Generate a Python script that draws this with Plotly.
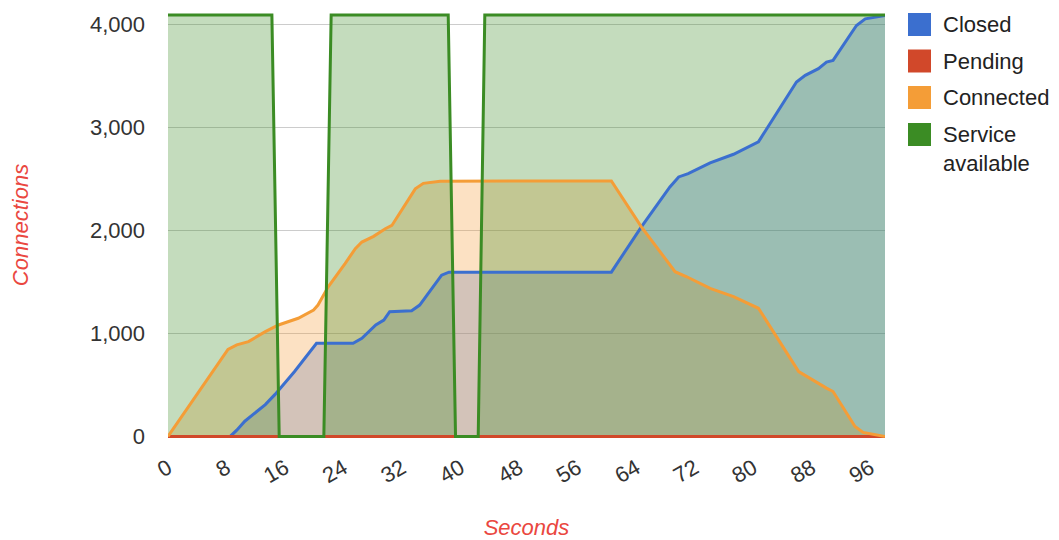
import plotly.graph_objects as go

# ---- data ----
closed_t = [0, 8.5, 9.4, 10.5, 13.3, 14.6, 17.3, 20.3, 25.3, 26.5, 28.4, 29.5, 30.3, 33.3, 34.4,
            37.4, 38.4, 60.6, 64.7, 68.6, 69.8, 71.1, 74.1, 77.3, 80.7, 85.9, 87.1, 88.9, 90.0,
            90.9, 94.1, 95.3, 98.0]
closed_v = [0, 0, 61, 148, 309, 406, 631, 905, 905, 953, 1082, 1130, 1211, 1221, 1275,
            1565, 1595, 1595, 2035, 2422, 2519, 2552, 2655, 2739, 2859, 3440, 3505, 3570, 3634,
            3650, 3989, 4054, 4086]

pending_t = [0, 98.0]
pending_v = [0, 0]

connected_t = [0, 8.2, 9.4, 11.0, 13.3, 15.1, 17.8, 19.9, 20.5, 21.9, 24.2, 25.6, 26.5, 28.1,
               29.7, 30.6, 33.8, 34.9, 37.2, 60.6, 64.7, 69.3, 70.9, 74.1, 77.3, 80.7, 86.2,
               87.3, 90.0, 90.9, 93.9, 95.0, 98.0]
connected_v = [0, 845, 889, 921, 1017, 1082, 1147, 1227, 1275, 1452, 1678, 1823, 1887, 1942,
               2016, 2048, 2403, 2457, 2478, 2480, 2035, 1599, 1550, 1438, 1357, 1244, 630,
               581, 469, 436, 97, 39, 0]

service_t = [0, 14.2, 15.2, 21.3, 22.3, 38.3, 39.3, 42.4, 43.3, 98.0]
service_v = [4090, 4090, 0, 0, 4090, 4090, 0, 0, 4090, 4090]

series_names = ["Closed", "Pending", "Connected", "Service available"]
legend_labels = ["Closed", "Pending", "Connected", "Service<br>available"]
x_ticks = list(range(0, 97, 8))
y_ticks = [0, 1000, 2000, 3000, 4000]

# ---- styling ----
colors = ["#3b6fcf", "#d1482a", "#f49d37", "#3b8c24"]
FONT = "Liberation Sans, Arial, Helvetica, sans-serif"
TITLE_RED = "#ea4740"
W, H = 1059, 540
ML, MR, MT, MB = 168, 174, 12, 102


def rgba(hex_color, a):
    h = hex_color.lstrip("#")
    r, g, b = int(h[0:2], 16), int(h[2:4], 16), int(h[4:6], 16)
    return f"rgba({r},{g},{b},{a})"


data = [(closed_t, closed_v), (pending_t, pending_v), (connected_t, connected_v), (service_t, service_v)]

fig = go.Figure()
# fills first
for (t, v), name, c in zip(data, series_names, colors):
    fig.add_trace(go.Scatter(x=t, y=v, mode="lines", fill="tozeroy", fillcolor=rgba(c, 0.3),
                             line=dict(width=0, color=c), name=name, showlegend=False,
                             hoverinfo="skip"))
# lines on top
for (t, v), name, c in zip(data, series_names, colors):
    fig.add_trace(go.Scatter(x=t, y=v, mode="lines", line=dict(width=3, color=c),
                             name=name, showlegend=False))

# ---- manual legend (Google-style squares) ----
pw = W - ML - MR
ph = H - MT - MB


def px_x(px):
    return (px - ML) / pw


def px_y(py):
    return (H - MB - py) / ph


centers = [24.5, 61, 97.5, 134.5]
shapes = []
annotations = []
for i, (lab, c) in enumerate(zip(legend_labels, colors)):
    cy = centers[i]
    shapes.append(dict(type="rect", xref="paper", yref="paper",
                       x0=px_x(908), x1=px_x(931), y0=px_y(cy + 11.5), y1=px_y(cy - 11.5),
                       fillcolor=c, line=dict(width=0)))
    ty = cy if "<br>" not in lab else cy + 14.3
    annotations.append(dict(text=lab, xref="paper", yref="paper", x=px_x(941), y=px_y(ty),
                            xanchor="left", yanchor="middle", align="left", showarrow=False,
                            font=dict(family=FONT, size=22, color="#222222")))

fig.update_layout(
    width=W, height=H,
    margin=dict(l=ML, r=MR, t=MT, b=MB, pad=0),
    paper_bgcolor="white", plot_bgcolor="white",
    showlegend=False,
    shapes=shapes, annotations=annotations,
    font=dict(family=FONT, size=22, color="#333333"),
)
fig.update_xaxes(
    range=[0, 98], tickvals=x_ticks, ticktext=[str(v) for v in x_ticks],
    tickangle=-30, showgrid=False, zeroline=False, showline=False, ticks="",
    ticklabelstandoff=12, automargin=False,
    tickfont=dict(family=FONT, size=22, color="#333333"),
    title=dict(text="Seconds", standoff=37,
               font=dict(family=FONT, size=22, color=TITLE_RED, style="italic")),
)
fig.update_yaxes(
    range=[-15, 4120], tickvals=y_ticks, tickformat=",",
    showgrid=True, gridcolor="#cccccc", gridwidth=1, zeroline=False, showline=False, ticks="",
    ticklabelstandoff=22, automargin=False,
    tickfont=dict(family=FONT, size=22, color="#333333"),
    title=dict(text="Connections", standoff=55,
               font=dict(family=FONT, size=22, color=TITLE_RED, style="italic")),
)

fig.write_html("out.html")
